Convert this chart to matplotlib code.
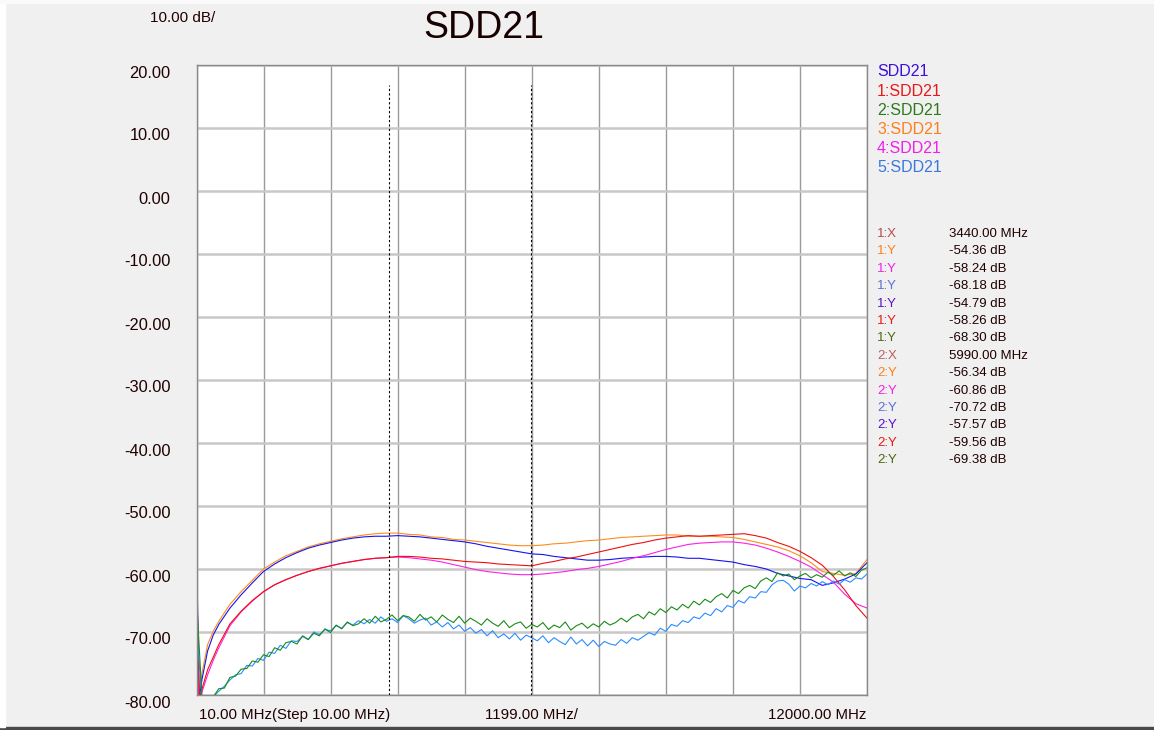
import matplotlib

matplotlib.use("Agg")
import matplotlib.pyplot as plt
from matplotlib.transforms import ScaledTranslation
from matplotlib.patches import Rectangle

plt.rcParams["font.family"] = ["Liberation Sans", "DejaVu Sans"]

# sweep grids (MHz) - 10 MHz start, 1199 MHz/div, 10 divisions
f_start, f_div, n_div = 10, 1199, 10
freq_fine = [10] + list(range(100, 12001, 100))
freq_smooth = [10, 50, 100, 200, 300] + list(range(400, 12001, 200))

# traces (dB)
sdd21 = [-61.0, -80.5, -77.5, -73.0, -70.5,
         -68.8, -66.2, -64.1, -62.2, -60.4, -59.2, -58.2, -57.4, -56.7, -56.2,
         -55.8, -55.4, -55.1, -54.9, -54.8, -54.8, -54.7, -54.8, -54.9, -55.1,
         -55.3, -55.5, -55.7, -56.0, -56.4, -56.7, -57.0, -57.3, -57.6, -57.7,
         -58.0, -58.2, -58.4, -58.6, -58.6, -58.5, -58.3, -58.2, -58.1, -58.0,
         -58.0, -58.1, -58.3, -58.3, -58.5, -58.7, -58.9, -59.3, -59.6, -60.0,
         -60.7, -61.1, -61.5, -61.7, -62.6, -62.2, -61.6, -60.8, -59.0]
sdd21_1 = [-63.5, -80.5, -79.0, -76.0, -74.0,
           -72.0, -68.7, -66.7, -65.0, -63.6, -62.5, -61.7, -61.0, -60.4, -59.9,
           -59.5, -59.1, -58.8, -58.5, -58.3, -58.2, -58.0, -58.0, -58.1, -58.3,
           -58.4, -58.6, -58.8, -58.9, -59.0, -59.2, -59.3, -59.4, -59.5, -59.1,
           -58.8, -58.4, -58.1, -57.7, -57.3, -56.9, -56.5, -56.1, -55.8, -55.4,
           -55.1, -54.9, -54.7, -54.8, -54.7, -54.6, -54.5, -54.4, -54.7, -55.1,
           -55.8, -56.4, -57.2, -58.2, -59.4, -61.2, -63.3, -65.8, -67.8]
sdd21_3 = [-70.0, -80.5, -76.5, -72.0, -69.9,
           -68.3, -65.6, -63.6, -61.8, -60.0, -58.9, -57.9, -57.2, -56.5, -56.0,
           -55.6, -55.2, -54.9, -54.6, -54.4, -54.3, -54.3, -54.5, -54.6, -54.9,
           -55.0, -55.3, -55.4, -55.6, -55.8, -56.0, -56.2, -56.3, -56.3, -56.2,
           -56.0, -55.9, -55.7, -55.5, -55.4, -55.2, -55.0, -54.9, -54.8, -54.7,
           -54.6, -54.6, -54.8, -54.8, -54.8, -54.9, -55.0, -55.3, -55.7, -56.1,
           -56.5, -57.1, -57.9, -59.0, -60.4, -60.7, -61.0, -60.7, -58.5]
sdd21_4 = [-72.0, -81.0, -79.5, -76.8, -74.5,
           -72.5, -69.0, -66.8, -65.1, -63.6, -62.5, -61.7, -61.0, -60.4, -59.9,
           -59.5, -59.1, -58.8, -58.5, -58.3, -58.2, -58.1, -58.2, -58.4, -58.6,
           -58.9, -59.3, -59.7, -60.1, -60.4, -60.6, -60.8, -60.9, -60.9, -60.8,
           -60.6, -60.4, -60.1, -59.9, -59.6, -59.2, -58.8, -58.3, -57.9, -57.4,
           -56.9, -56.5, -56.1, -55.9, -55.8, -55.7, -55.7, -55.9, -56.2, -56.7,
           -57.3, -58.0, -58.8, -59.7, -60.9, -62.1, -64.0, -65.5, -66.2]
sdd21_2 = [-66.0,
           -80.5, -81.0, -80.3, -79.0, -78.9, -77.2, -77.0, -75.9, -75.8, -74.6,
           -74.8, -73.6, -73.9, -72.5, -72.9, -71.7, -71.5, -71.9, -70.6, -71.2,
           -70.2, -70.6, -69.5, -70.1, -68.9, -69.5, -68.4, -69.0, -68.7, -67.9,
           -68.6, -67.5, -68.4, -68.0, -67.3, -68.2, -67.4, -67.6, -68.3, -67.2,
           -68.1, -67.6, -68.4, -67.3, -68.0, -68.5, -67.5, -68.6, -67.8, -68.3,
           -68.9, -67.9, -68.6, -69.1, -68.2, -69.3, -68.7, -68.4, -69.4, -68.8,
           -69.2, -68.5, -69.6, -68.9, -69.3, -68.4, -69.7, -69.0, -68.6, -69.4,
           -68.7, -69.2, -68.3, -68.9, -68.5, -67.8, -68.4, -67.6, -67.2, -67.9,
           -66.8, -67.3, -66.3, -66.9, -66.0, -66.5, -65.6, -66.2, -65.1, -65.7,
           -64.8, -65.3, -64.4, -63.9, -64.6, -63.4, -63.9, -63.0, -62.6, -63.1,
           -61.9, -61.4, -62.0, -60.6, -61.1, -60.8, -61.7, -61.1, -60.7, -61.4,
           -60.9, -61.3, -60.5, -61.0, -60.3, -61.1, -60.6, -61.2, -60.2, -59.8]
sdd21_5 = [-70.0,
           -81.0, -80.6, -80.3, -79.4, -78.6, -77.6, -76.8, -76.6, -75.3, -75.4,
           -74.2, -74.5, -73.2, -73.4, -72.1, -72.6, -71.4, -71.5, -70.7, -71.2,
           -70.0, -70.4, -69.6, -69.8, -69.0, -69.4, -68.5, -68.9, -68.2, -68.7,
           -68.0, -68.6, -67.6, -68.3, -67.9, -68.5, -67.4, -67.9, -68.6, -68.1,
           -67.8, -68.9, -68.4, -69.2, -68.5, -69.5, -68.9, -69.9, -69.3, -70.2,
           -69.6, -70.6, -69.8, -70.9, -70.3, -71.1, -70.2, -71.3, -70.5, -70.9,
           -71.4, -70.6, -71.7, -70.9, -71.5, -72.0, -70.8, -71.9, -71.2, -72.2,
           -71.3, -72.3, -71.5, -71.9, -72.1, -71.2, -71.8, -70.9, -71.3, -70.7,
           -70.1, -70.5, -69.4, -69.9, -68.8, -69.1, -68.2, -68.5, -67.6, -67.9,
           -67.0, -67.4, -66.3, -66.8, -65.8, -66.1, -65.0, -65.4, -64.4, -64.6,
           -63.6, -63.7, -62.5, -61.9, -61.8, -62.4, -63.5, -62.7, -63.0, -62.3,
           -62.7, -62.0, -62.5, -61.9, -62.4, -61.7, -62.1, -61.4, -61.6, -60.8]

legend_labels = ["SDD21", "1:SDD21", "2:SDD21", "3:SDD21", "4:SDD21", "5:SDD21"]
legend_colors = ["#3c10d8", "#e81818", "#2e7a1a", "#ff7f1a", "#f020e8", "#3a78e0"]

# marker readout
marker_freqs = [3440.00, 5990.00]
marker_rows = ["3:SDD21", "4:SDD21", "5:SDD21", "SDD21", "1:SDD21", "2:SDD21"]
marker_vals = [[-54.36, -58.24, -68.18, -54.79, -58.26, -68.30],
               [-56.34, -60.86, -70.72, -57.57, -59.56, -69.38]]
marker_row_colors = ["#ff7f1a", "#f020e8", "#5a70d8", "#5a10c8", "#e81818", "#4a6a10"]
marker_x_colors = ["#b84848", "#b86060"]

W, H = 1154, 730
TXT = "#200000"


def px(x, y):
    return x / W, 1 - y / H


fig = plt.figure(figsize=(W / 100, H / 100), dpi=100, facecolor="#f0f0f0")
fig.patches.append(Rectangle((0, 0), 1, 3 / H, transform=fig.transFigure, color="#4a4a4a"))
fig.patches.append(Rectangle((0, 3 / H), 5 / W, 1, transform=fig.transFigure, color="white"))
fig.patches.append(Rectangle((0, 1 - 3 / H), 1, 3 / H, transform=fig.transFigure, color="#fafafa"))

ax = fig.add_axes([197 / W, 35 / H, 670 / W, 630 / H])
ax.set_facecolor("white")
f_stop = f_start + n_div * f_div
ax.set_xlim(f_start, f_stop)
ax.set_ylim(-80, 20)
ax.set_xticks([f_start + k * f_div for k in range(n_div + 1)])
ax.set_xticklabels([])
ax.set_yticks(range(20, -81, -10))
ax.set_yticklabels([f"{v:.2f}" for v in range(20, -81, -10)], fontsize=11.8, color=TXT)
ax.tick_params(length=0)
ax.tick_params(axis="y", pad=19)
for lab in ax.get_yticklabels():
    lab.set_transform(lab.get_transform() + ScaledTranslation(0, -0.065, fig.dpi_scale_trans))
ax.grid(axis="x", color="#9a9a9a", lw=1.0)
ax.grid(axis="y", color="#c8c8c8", lw=1.8)
for s in ax.spines.values():
    s.set_color("#8a8a8a")
    s.set_linewidth(1.0)

# traces
lw = 0.8
ax.plot(freq_smooth, sdd21_3, color="#ff8c1a", lw=lw)
ax.plot(freq_smooth, sdd21, color="#1414f0", lw=lw)
ax.plot(freq_smooth, sdd21_4, color="#ff1ee6", lw=lw)
ax.plot(freq_smooth, sdd21_1, color="#ee1010", lw=lw)
ax.plot(freq_fine, sdd21_5, color="#2a8cff", lw=lw)
ax.plot(freq_fine, sdd21_2, color="#1a8a1a", lw=lw)

# marker lines
ax.vlines(marker_freqs, -80, 16.8, colors="black", lw=0.8, linestyles=(0, (2, 2)))

# header
fig.text(*px(150, 18), "10.00 dB/", fontsize=11, color=TXT, va="center")
fig.text(*px(484, 28), "SDD21", fontsize=27, color="#180000", ha="center", va="center")

# bottom labels
fig.text(*px(199, 715), f"{f_start:.2f} MHz(Step 10.00 MHz)", fontsize=10.8, color=TXT, va="center")
fig.text(*px(531, 715), f"{f_div:.2f} MHz/", fontsize=10.8, color=TXT, ha="center", va="center")
fig.text(*px(866, 715), f"{f_stop:.2f} MHz", fontsize=10.8, color=TXT, ha="right", va="center")

# trace legend
for i, (lab, col) in enumerate(zip(legend_labels, legend_colors)):
    fig.text(*px(877, 72 + i * 19.2), lab, fontsize=11.5, color=col, va="center")

# marker table
row = 0
for m, (mf, vals) in enumerate(zip(marker_freqs, marker_vals)):
    y = 234 + row * 17.4
    fig.text(*px(877, y), f"{m + 1}:X", fontsize=9.5, color=marker_x_colors[m], va="center")
    fig.text(*px(949, y), f"{mf:.2f} MHz", fontsize=9.5, color=TXT, va="center")
    row += 1
    for v, col in zip(vals, marker_row_colors):
        y = 234 + row * 17.4
        fig.text(*px(877, y), f"{m + 1}:Y", fontsize=9.5, color=col, va="center")
        fig.text(*px(949, y), f"{v:.2f} dB", fontsize=9.5, color=TXT, va="center")
        row += 1

fig.savefig("out.png", dpi=100, facecolor=fig.get_facecolor())
